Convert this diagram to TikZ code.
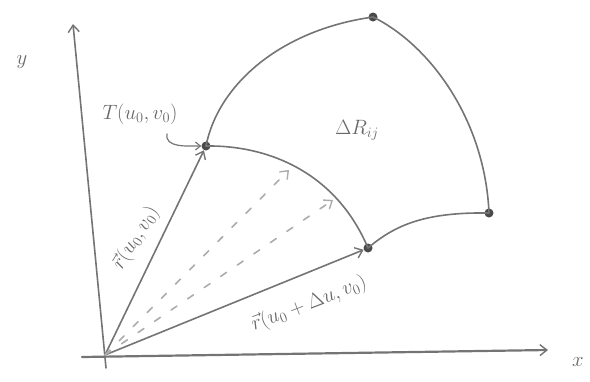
\documentclass[tikz,border=0pt]{standalone}
\usetikzlibrary{arrows.meta}
\definecolor{pencil}{HTML}{747474}
\definecolor{lead}{HTML}{4A4A4A}
\begin{document}
\begin{tikzpicture}[x=1pt,y=-1pt,
  pen/.style={draw=pencil,line width=1.6pt,line cap=round},
  tip/.style={-{Straight Barb[length=7pt,width=11pt,line width=1.4pt]}},
  dot/.style={circle,fill=lead,inner sep=0pt,minimum size=9pt},
  dsh/.style={pen,draw=pencil!60,dash pattern=on 7pt off 13pt},
  lab/.style={text=pencil!90!black,font=\fontsize{20}{24}\selectfont}]
\useasboundingbox (0,0) rectangle (590,381);
% axes
\coordinate (O) at (105,355);
\coordinate (ybot) at (106,368);
\coordinate (ytop) at (73,24);
\coordinate (xl) at (82,357);
\coordinate (xr) at (548,350);
\draw[pen,tip] (ybot) -- (ytop);
\draw[pen,line width=2.2pt,tip] (xl) -- (xr);
\node[lab] (ylab) at (22,62) {$y$};
\node[lab] (xlab) at (578,362) {$x$};
% corner points
\node[dot] (P) at (206,146) {};
\node[dot] (Q) at (368,248) {};
\node[dot] (A) at (373,17) {};
\node[dot] (B) at (489,213) {};
% boundary curves
\draw[pen] (P.center) .. controls (218,85) and (280,30) .. (A.center);
\draw[pen] (A.center) .. controls (430,45) and (485,120) .. (B.center);
\draw[pen] (P.center) .. controls (265,145) and (335,170) .. (Q.center);
\draw[pen] (Q.center) .. controls (395,225) and (425,212) .. (B.center);
% position vectors
\draw[pen,tip] (O) -- (P);
\draw[pen,tip] (O) -- (Q);
% dashed vectors
\coordinate (D1) at (289,170);
\coordinate (D2) at (333,200);
\draw[dsh,tip] (O) -- (D1);
\draw[dsh,tip] (O) -- (D2);
% labels
\node[lab] (Tl) at (140,114) {$T(u_0,v_0)$};
\draw[pen,line width=1.2pt,-{Straight Barb[length=5pt,width=8pt,line width=1.2pt]}]
  (Tl.south east) ++(-14,6) to[out=-100,in=180] (P.west);
\node[lab] (R) at (357,130) {$\Delta R_{ij}$};
\node[lab,rotate=58] (r1) at (136,238) {$\vec r(u_0,v_0)$};
\node[lab,rotate=21] (r2) at (309,304) {$\vec r(u_0+\Delta u,v_0)$};
\end{tikzpicture}
\end{document}
